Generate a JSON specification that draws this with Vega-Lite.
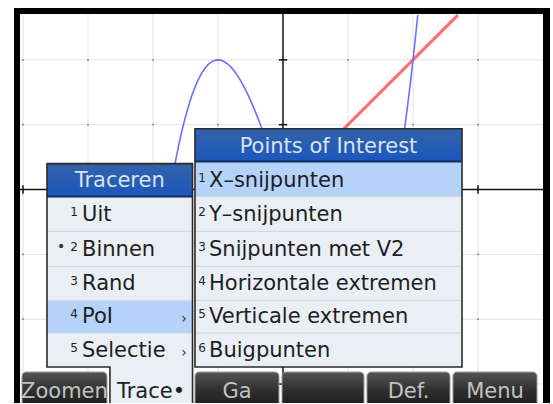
{
  "$schema": "https://vega.github.io/schema/vega-lite/v6.json",
  "width": 553,
  "height": 404,
  "autosize": {"type": "fit", "contains": "padding"},
  "padding": 0,
  "background": "white",
  "config": {"view": {"stroke": null}},
  "datasets": {
    "gridx": [{"g": -4}, {"g": -3}, {"g": -2}, {"g": -1}, {"g": 1}, {"g": 2}, {"g": 3}],
    "gridy": [{"g": 2}, {"g": 1}, {"g": -1}, {"g": -2}, {"g": -3}],
    "dots": [
      {"gx": -4, "gy": 2}, {"gx": -3, "gy": 2}, {"gx": -2, "gy": 2}, {"gx": -1, "gy": 2}, {"gx": 1, "gy": 2}, {"gx": 2, "gy": 2}, {"gx": 3, "gy": 2},
      {"gx": -4, "gy": 1}, {"gx": -3, "gy": 1}, {"gx": -2, "gy": 1}, {"gx": -1, "gy": 1}, {"gx": 1, "gy": 1}, {"gx": 2, "gy": 1}, {"gx": 3, "gy": 1},
      {"gx": -4, "gy": -1}, {"gx": 3, "gy": -1}, {"gx": -4, "gy": -2}, {"gx": 3, "gy": -2}
    ],
    "curve": [
      {"s": "a", "x": -1.70, "y": 0.187}, {"s": "a", "x": -1.65, "y": 0.458}, {"s": "a", "x": -1.60, "y": 0.704},
      {"s": "a", "x": -1.55, "y": 0.926}, {"s": "a", "x": -1.50, "y": 1.125}, {"s": "a", "x": -1.45, "y": 1.301},
      {"s": "a", "x": -1.40, "y": 1.456}, {"s": "a", "x": -1.35, "y": 1.590}, {"s": "a", "x": -1.30, "y": 1.703},
      {"s": "a", "x": -1.25, "y": 1.797}, {"s": "a", "x": -1.20, "y": 1.872}, {"s": "a", "x": -1.15, "y": 1.929},
      {"s": "a", "x": -1.10, "y": 1.969}, {"s": "a", "x": -1.05, "y": 1.992}, {"s": "a", "x": -1.00, "y": 2.000},
      {"s": "a", "x": -0.95, "y": 1.993}, {"s": "a", "x": -0.90, "y": 1.971}, {"s": "a", "x": -0.85, "y": 1.936},
      {"s": "a", "x": -0.80, "y": 1.888}, {"s": "a", "x": -0.75, "y": 1.828}, {"s": "a", "x": -0.70, "y": 1.757},
      {"s": "a", "x": -0.65, "y": 1.675}, {"s": "a", "x": -0.60, "y": 1.584}, {"s": "a", "x": -0.55, "y": 1.484},
      {"s": "a", "x": -0.50, "y": 1.375}, {"s": "a", "x": -0.45, "y": 1.259}, {"s": "a", "x": -0.40, "y": 1.136},
      {"s": "a", "x": -0.35, "y": 1.007}, {"s": "a", "x": -0.30, "y": 0.873}, {"s": "a", "x": -0.25, "y": 0.734},
      {"s": "a", "x": -0.20, "y": 0.592},
      {"s": "b", "x": 1.86, "y": 0.855}, {"s": "b", "x": 1.88, "y": 1.005}, {"s": "b", "x": 1.90, "y": 1.159},
      {"s": "b", "x": 1.92, "y": 1.318}, {"s": "b", "x": 1.94, "y": 1.481}, {"s": "b", "x": 1.96, "y": 1.650},
      {"s": "b", "x": 1.98, "y": 1.822}, {"s": "b", "x": 2.00, "y": 2.000}, {"s": "b", "x": 2.02, "y": 2.182},
      {"s": "b", "x": 2.04, "y": 2.370}, {"s": "b", "x": 2.06, "y": 2.562}, {"s": "b", "x": 2.073, "y": 2.69}
    ],
    "redline": [{"x": 0.8, "y": 0.8}, {"x": 2.69, "y": 2.69}],
    "buttons": [
      {"x1": -4.015, "x2": -2.708, "cx": -3.362, "label": "Zoomen"},
      {"x1": -1.354, "x2": -0.062, "cx": -0.708, "label": "Ga"},
      {"x1": -0.015, "x2": 1.246, "cx": 0.615, "label": ""},
      {"x1": 1.292, "x2": 2.569, "cx": 1.931, "label": "Def."},
      {"x1": 2.615, "x2": 3.908, "cx": 3.262, "label": "Menu"}
    ],
    "trrows": [
      {"y1": -0.108, "y2": -0.646, "hl": "n"},
      {"y1": -0.646, "y2": -1.185, "hl": "n"},
      {"y1": -1.185, "y2": -1.708, "hl": "n"},
      {"y1": -1.708, "y2": -2.215, "hl": "y"},
      {"y1": -2.215, "y2": -2.738, "hl": "n"}
    ],
    "poirows": [
      {"y1": 0.431, "y2": -0.108, "hl": "y"},
      {"y1": -0.108, "y2": -0.646, "hl": "n"},
      {"y1": -0.646, "y2": -1.185, "hl": "n"},
      {"y1": -1.185, "y2": -1.708, "hl": "n"},
      {"y1": -1.708, "y2": -2.215, "hl": "n"},
      {"y1": -2.215, "y2": -2.738, "hl": "n"}
    ],
    "seps": [
      {"x1": -3.631, "x2": -1.392, "y": -0.646}, {"x1": -3.631, "x2": -1.392, "y": -1.185},
      {"x1": -3.631, "x2": -1.392, "y": -1.708}, {"x1": -3.631, "x2": -1.392, "y": -2.215},
      {"x1": -1.354, "x2": 2.754, "y": -0.108}, {"x1": -1.354, "x2": 2.754, "y": -0.646},
      {"x1": -1.354, "x2": 2.754, "y": -1.185}, {"x1": -1.354, "x2": 2.754, "y": -1.708},
      {"x1": -1.354, "x2": 2.754, "y": -2.215}
    ],
    "headers": [
      {"x1": -3.631, "x2": -1.392, "y1": 0.4, "y2": -0.108, "cx": -2.512, "yb": 0.046, "t": "Traceren"},
      {"x1": -1.354, "x2": 2.754, "y1": 0.938, "y2": 0.431, "cx": 0.7, "yb": 0.569, "t": "Points of Interest"}
    ],
    "troutline": [
      {"o": 1, "x": -2.662, "y": -3.35}, {"o": 2, "x": -2.662, "y": -2.738}, {"o": 3, "x": -3.631, "y": -2.738},
      {"o": 4, "x": -3.631, "y": 0.4}, {"o": 5, "x": -1.392, "y": 0.4}, {"o": 6, "x": -1.392, "y": -3.35}
    ],
    "tritems": [
      {"xn": -3.154, "xt": -3.092, "n": "1", "t": "Uit", "yb": -0.492, "ys": -0.415},
      {"xn": -3.154, "xt": -3.092, "n": "2", "t": "Binnen", "yb": -1.031, "ys": -0.954},
      {"xn": -3.154, "xt": -3.092, "n": "3", "t": "Rand", "yb": -1.554, "ys": -1.477},
      {"xn": -3.154, "xt": -3.092, "n": "4", "t": "PoI", "yb": -2.062, "ys": -1.985},
      {"xn": -3.154, "xt": -3.092, "n": "5", "t": "Selectie", "yb": -2.585, "ys": -2.508},
      {"xn": -1.185, "xt": -1.138, "n": "1", "t": "X–snijpunten", "yb": 0.046, "ys": 0.123},
      {"xn": -1.185, "xt": -1.138, "n": "2", "t": "Y–snijpunten", "yb": -0.492, "ys": -0.415},
      {"xn": -1.185, "xt": -1.138, "n": "3", "t": "Snijpunten met V2", "yb": -1.031, "ys": -0.954},
      {"xn": -1.185, "xt": -1.138, "n": "4", "t": "Horizontale extremen", "yb": -1.554, "ys": -1.477},
      {"xn": -1.185, "xt": -1.138, "n": "5", "t": "Verticale extremen", "yb": -2.062, "ys": -1.985},
      {"xn": -1.185, "xt": -1.138, "n": "6", "t": "Buigpunten", "yb": -2.585, "ys": -2.508}
    ],
    "marks": [
      {"x": -1.523, "y": -2.062, "t": "›"},
      {"x": -1.523, "y": -2.585, "t": "›"},
      {"x": -3.415, "y": -0.954, "t": "•"}
    ]
  },
  "layer": [
    {
      "data": {"values": [{"x1": -4.138, "x2": 4.108, "y1": 2.8, "y2": -3.35}]},
      "mark": {"type": "rect", "color": "black", "clip": true},
      "encoding": {
        "x": {"field": "x1", "type": "quantitative", "scale": {"domain": [-4.3538, 4.1538], "nice": false, "zero": false}, "axis": null},
        "x2": {"field": "x2"},
        "y": {"field": "y1", "type": "quantitative", "scale": {"domain": [-3.2923, 2.9231], "nice": false, "zero": false}, "axis": null},
        "y2": {"field": "y2"}
      }
    },
    {
      "data": {"values": [{"x1": -4.046, "x2": 4.0, "y1": 2.708, "y2": -3.35}]},
      "mark": {"type": "rect", "color": "white", "clip": true},
      "encoding": {
        "x": {"field": "x1", "type": "quantitative", "scale": {"domain": [-4.3538, 4.1538], "nice": false, "zero": false}, "axis": null},
        "x2": {"field": "x2"},
        "y": {"field": "y1", "type": "quantitative", "scale": {"domain": [-3.2923, 2.9231], "nice": false, "zero": false}, "axis": null},
        "y2": {"field": "y2"}
      }
    },
    {
      "data": {"name": "gridx"},
      "mark": {"type": "rule", "color": "#e2e2e2", "strokeWidth": 1},
      "encoding": {
        "x": {"field": "g", "type": "quantitative", "scale": {"domain": [-4.3538, 4.1538], "nice": false, "zero": false}, "axis": null},
        "y": {"datum": 2.708, "type": "quantitative", "scale": {"domain": [-3.2923, 2.9231], "nice": false, "zero": false}, "axis": null},
        "y2": {"datum": -3.2923}
      }
    },
    {
      "data": {"name": "gridy"},
      "mark": {"type": "rule", "color": "#e2e2e2", "strokeWidth": 1},
      "encoding": {
        "y": {"field": "g", "type": "quantitative", "scale": {"domain": [-3.2923, 2.9231], "nice": false, "zero": false}, "axis": null},
        "x": {"datum": -4.046, "type": "quantitative", "scale": {"domain": [-4.3538, 4.1538], "nice": false, "zero": false}, "axis": null},
        "x2": {"datum": 4.0}
      }
    },
    {
      "data": {"name": "dots"},
      "mark": {"type": "square", "color": "#8a8a8a", "size": 3, "opacity": 1},
      "encoding": {
        "x": {"field": "gx", "type": "quantitative", "scale": {"domain": [-4.3538, 4.1538], "nice": false, "zero": false}, "axis": null},
        "y": {"field": "gy", "type": "quantitative", "scale": {"domain": [-3.2923, 2.9231], "nice": false, "zero": false}, "axis": null}
      }
    },
    {
      "data": {"values": [{"v": 0}]},
      "mark": {"type": "rule", "color": "#111111", "strokeWidth": 1.5},
      "encoding": {
        "y": {"field": "v", "type": "quantitative", "scale": {"domain": [-3.2923, 2.9231], "nice": false, "zero": false}, "axis": null},
        "x": {"datum": -4.046, "type": "quantitative", "scale": {"domain": [-4.3538, 4.1538], "nice": false, "zero": false}, "axis": null},
        "x2": {"datum": 4.0}
      }
    },
    {
      "data": {"values": [{"v": 0}]},
      "mark": {"type": "rule", "color": "#111111", "strokeWidth": 1.5},
      "encoding": {
        "x": {"field": "v", "type": "quantitative", "scale": {"domain": [-4.3538, 4.1538], "nice": false, "zero": false}, "axis": null},
        "y": {"datum": 2.708, "type": "quantitative", "scale": {"domain": [-3.2923, 2.9231], "nice": false, "zero": false}, "axis": null},
        "y2": {"datum": -3.2923}
      }
    },
    {
      "data": {"name": "gridx"},
      "mark": {"type": "rule", "color": "#111111", "strokeWidth": 1.5},
      "encoding": {
        "x": {"field": "g", "type": "quantitative", "scale": {"domain": [-4.3538, 4.1538], "nice": false, "zero": false}, "axis": null},
        "y": {"datum": 0.065, "type": "quantitative", "scale": {"domain": [-3.2923, 2.9231], "nice": false, "zero": false}, "axis": null},
        "y2": {"datum": -0.065}
      }
    },
    {
      "data": {"name": "gridy"},
      "mark": {"type": "rule", "color": "#111111", "strokeWidth": 1.5},
      "encoding": {
        "y": {"field": "g", "type": "quantitative", "scale": {"domain": [-3.2923, 2.9231], "nice": false, "zero": false}, "axis": null},
        "x": {"datum": -0.065, "type": "quantitative", "scale": {"domain": [-4.3538, 4.1538], "nice": false, "zero": false}, "axis": null},
        "x2": {"datum": 0.065}
      }
    },
    {
      "data": {"name": "redline"},
      "mark": {"type": "line", "color": "#ff5555", "strokeWidth": 3, "opacity": 0.85, "clip": true},
      "encoding": {
        "x": {"field": "x", "type": "quantitative", "scale": {"domain": [-4.3538, 4.1538], "nice": false, "zero": false}, "axis": null},
        "y": {"field": "y", "type": "quantitative", "scale": {"domain": [-3.2923, 2.9231], "nice": false, "zero": false}, "axis": null}
      }
    },
    {
      "data": {"name": "curve"},
      "mark": {"type": "line", "color": "#6f6fff", "strokeWidth": 1.6, "clip": true},
      "encoding": {
        "x": {"field": "x", "type": "quantitative", "scale": {"domain": [-4.3538, 4.1538], "nice": false, "zero": false}, "axis": null},
        "y": {"field": "y", "type": "quantitative", "scale": {"domain": [-3.2923, 2.9231], "nice": false, "zero": false}, "axis": null},
        "detail": {"field": "s", "type": "nominal"}
      }
    },
    {
      "data": {"name": "buttons"},
      "mark": {"type": "rect", "cornerRadius": 4, "stroke": "#9a9a9a", "strokeWidth": 1, "clip": true,
        "fill": {"gradient": "linear", "x1": 0, "y1": 0, "x2": 0, "y2": 1, "stops": [{"offset": 0, "color": "#555555"}, {"offset": 0.5, "color": "#2e2e2e"}, {"offset": 1, "color": "#1a1a1a"}]}},
      "encoding": {
        "x": {"field": "x1", "type": "quantitative", "scale": {"domain": [-4.3538, 4.1538], "nice": false, "zero": false}, "axis": null},
        "x2": {"field": "x2"},
        "y": {"datum": -2.815, "type": "quantitative", "scale": {"domain": [-3.2923, 2.9231], "nice": false, "zero": false}, "axis": null},
        "y2": {"datum": -3.4}
      }
    },
    {
      "data": {"name": "buttons"},
      "mark": {"type": "text", "font": "DejaVu Sans", "fontSize": 21, "color": "#c2c2c2", "align": "center", "baseline": "alphabetic"},
      "encoding": {
        "x": {"field": "cx", "type": "quantitative", "scale": {"domain": [-4.3538, 4.1538], "nice": false, "zero": false}, "axis": null},
        "y": {"datum": -3.215, "type": "quantitative", "scale": {"domain": [-3.2923, 2.9231], "nice": false, "zero": false}, "axis": null},
        "text": {"field": "label"}
      }
    },
    {
      "data": {"name": "trrows"},
      "mark": {"type": "rect"},
      "encoding": {
        "x": {"datum": -3.631, "type": "quantitative", "scale": {"domain": [-4.3538, 4.1538], "nice": false, "zero": false}, "axis": null},
        "x2": {"datum": -1.392},
        "y": {"field": "y1", "type": "quantitative", "scale": {"domain": [-3.2923, 2.9231], "nice": false, "zero": false}, "axis": null},
        "y2": {"field": "y2"},
        "color": {"field": "hl", "type": "nominal", "scale": {"domain": ["n", "y"], "range": ["#e9eff5", "#b5d2f8"]}, "legend": null}
      }
    },
    {
      "data": {"values": [{"x1": -2.662, "x2": -1.392, "y1": -2.738, "y2": -3.4}]},
      "mark": {"type": "rect", "color": "#e9eff5", "clip": true},
      "encoding": {
        "x": {"field": "x1", "type": "quantitative", "scale": {"domain": [-4.3538, 4.1538], "nice": false, "zero": false}, "axis": null},
        "x2": {"field": "x2"},
        "y": {"field": "y1", "type": "quantitative", "scale": {"domain": [-3.2923, 2.9231], "nice": false, "zero": false}, "axis": null},
        "y2": {"field": "y2"}
      }
    },
    {
      "data": {"name": "poirows"},
      "mark": {"type": "rect"},
      "encoding": {
        "x": {"datum": -1.354, "type": "quantitative", "scale": {"domain": [-4.3538, 4.1538], "nice": false, "zero": false}, "axis": null},
        "x2": {"datum": 2.754},
        "y": {"field": "y1", "type": "quantitative", "scale": {"domain": [-3.2923, 2.9231], "nice": false, "zero": false}, "axis": null},
        "y2": {"field": "y2"},
        "color": {"field": "hl", "type": "nominal", "scale": {"domain": ["n", "y"], "range": ["#e9eff5", "#b5d2f8"]}, "legend": null}
      }
    },
    {
      "data": {"name": "seps"},
      "mark": {"type": "rule", "color": "#d3dae2", "strokeWidth": 1.2},
      "encoding": {
        "x": {"field": "x1", "type": "quantitative", "scale": {"domain": [-4.3538, 4.1538], "nice": false, "zero": false}, "axis": null},
        "x2": {"field": "x2"},
        "y": {"field": "y", "type": "quantitative", "scale": {"domain": [-3.2923, 2.9231], "nice": false, "zero": false}, "axis": null}
      }
    },
    {
      "data": {"name": "headers"},
      "mark": {"type": "rect",
        "fill": {"gradient": "linear", "x1": 0, "y1": 0, "x2": 0, "y2": 1, "stops": [{"offset": 0, "color": "#3462aa"}, {"offset": 1, "color": "#1b57bd"}]}},
      "encoding": {
        "x": {"field": "x1", "type": "quantitative", "scale": {"domain": [-4.3538, 4.1538], "nice": false, "zero": false}, "axis": null},
        "x2": {"field": "x2"},
        "y": {"field": "y1", "type": "quantitative", "scale": {"domain": [-3.2923, 2.9231], "nice": false, "zero": false}, "axis": null},
        "y2": {"field": "y2"}
      }
    },
    {
      "data": {"name": "headers"},
      "mark": {"type": "rule", "color": "#0f2c5e", "strokeWidth": 2},
      "encoding": {
        "x": {"field": "x1", "type": "quantitative", "scale": {"domain": [-4.3538, 4.1538], "nice": false, "zero": false}, "axis": null},
        "x2": {"field": "x2"},
        "y": {"field": "y2", "type": "quantitative", "scale": {"domain": [-3.2923, 2.9231], "nice": false, "zero": false}, "axis": null}
      }
    },
    {
      "data": {"name": "headers"},
      "mark": {"type": "text", "font": "DejaVu Sans", "fontSize": 21, "color": "#d8e3f1", "align": "center", "baseline": "alphabetic"},
      "encoding": {
        "x": {"field": "cx", "type": "quantitative", "scale": {"domain": [-4.3538, 4.1538], "nice": false, "zero": false}, "axis": null},
        "y": {"field": "yb", "type": "quantitative", "scale": {"domain": [-3.2923, 2.9231], "nice": false, "zero": false}, "axis": null},
        "text": {"field": "t"}
      }
    },
    {
      "data": {"name": "troutline"},
      "mark": {"type": "line", "color": "#2a2a2a", "strokeWidth": 1.6, "clip": true},
      "encoding": {
        "x": {"field": "x", "type": "quantitative", "scale": {"domain": [-4.3538, 4.1538], "nice": false, "zero": false}, "axis": null},
        "y": {"field": "y", "type": "quantitative", "scale": {"domain": [-3.2923, 2.9231], "nice": false, "zero": false}, "axis": null},
        "order": {"field": "o", "type": "quantitative"}
      }
    },
    {
      "data": {"values": [{"x1": -1.354, "x2": 2.754, "y1": 0.938, "y2": -2.738}]},
      "mark": {"type": "rect", "fill": null, "fillOpacity": 0, "stroke": "#2a2a2a", "strokeWidth": 1.6},
      "encoding": {
        "x": {"field": "x1", "type": "quantitative", "scale": {"domain": [-4.3538, 4.1538], "nice": false, "zero": false}, "axis": null},
        "x2": {"field": "x2"},
        "y": {"field": "y1", "type": "quantitative", "scale": {"domain": [-3.2923, 2.9231], "nice": false, "zero": false}, "axis": null},
        "y2": {"field": "y2"}
      }
    },
    {
      "data": {"name": "tritems"},
      "mark": {"type": "text", "font": "DejaVu Sans", "fontSize": 12, "color": "#1e1e1e", "align": "right", "baseline": "alphabetic"},
      "encoding": {
        "x": {"field": "xn", "type": "quantitative", "scale": {"domain": [-4.3538, 4.1538], "nice": false, "zero": false}, "axis": null},
        "y": {"field": "ys", "type": "quantitative", "scale": {"domain": [-3.2923, 2.9231], "nice": false, "zero": false}, "axis": null},
        "text": {"field": "n"}
      }
    },
    {
      "data": {"name": "tritems"},
      "mark": {"type": "text", "font": "DejaVu Sans", "fontSize": 21, "color": "#1e1e1e", "align": "left", "baseline": "alphabetic"},
      "encoding": {
        "x": {"field": "xt", "type": "quantitative", "scale": {"domain": [-4.3538, 4.1538], "nice": false, "zero": false}, "axis": null},
        "y": {"field": "yb", "type": "quantitative", "scale": {"domain": [-3.2923, 2.9231], "nice": false, "zero": false}, "axis": null},
        "text": {"field": "t"}
      }
    },
    {
      "data": {"name": "marks"},
      "mark": {"type": "text", "font": "DejaVu Sans", "fontSize": 14, "color": "#333333", "align": "center", "baseline": "alphabetic"},
      "encoding": {
        "x": {"field": "x", "type": "quantitative", "scale": {"domain": [-4.3538, 4.1538], "nice": false, "zero": false}, "axis": null},
        "y": {"field": "y", "type": "quantitative", "scale": {"domain": [-3.2923, 2.9231], "nice": false, "zero": false}, "axis": null},
        "text": {"field": "t"}
      }
    },
    {
      "data": {"values": [{"x": -2.554, "y": -3.215, "t": "Trace•"}]},
      "mark": {"type": "text", "font": "DejaVu Sans", "fontSize": 21, "color": "#1e1e1e", "align": "left", "baseline": "alphabetic"},
      "encoding": {
        "x": {"field": "x", "type": "quantitative", "scale": {"domain": [-4.3538, 4.1538], "nice": false, "zero": false}, "axis": null},
        "y": {"field": "y", "type": "quantitative", "scale": {"domain": [-3.2923, 2.9231], "nice": false, "zero": false}, "axis": null},
        "text": {"field": "t"}
      }
    }
  ]
}
